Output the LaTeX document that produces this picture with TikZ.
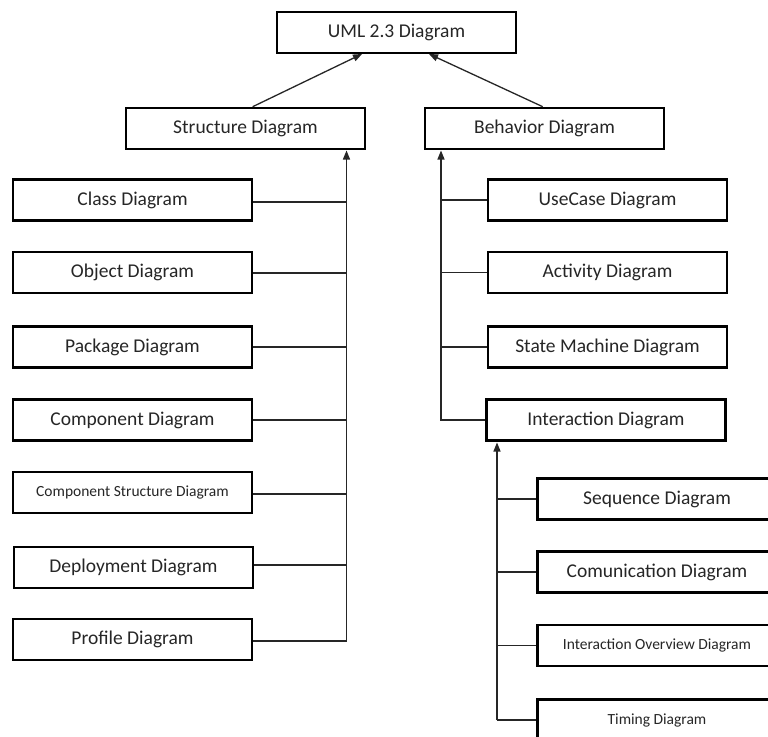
\documentclass[tikz,border=0pt]{standalone}
\usepackage{fontspec}
\setmainfont{Carlito}
\usetikzlibrary{arrows.meta}
\tikzset{
  box/.style={draw=black, line width=2.6pt, fill=white, minimum width=239pt, minimum height=41pt,
    inner sep=0pt, font=\fontsize{19.5}{23}\selectfont, text=black!85},
  smallbox/.style={box, font=\fontsize{15.5}{19}\selectfont},
  conn/.style={draw=black!85, line width=1.3pt},
  arr/.style={conn, -{Triangle[length=9pt,width=7pt]}},
}
\begin{document}
\begin{tikzpicture}[x=1pt,y=-1pt]
\useasboundingbox (0,0) rectangle (768,736);
\clip (0,0) rectangle (768,736);
\fill[white] (0,0) rectangle (768,736);
% top level
\node[box] (uml) at (396.5,32.5) {UML 2.3 Diagram};
\node[box] (struct) at (245.5,128.5) {Structure Diagram};
\node[box] (behav) at (544.5,128.5) {Behavior Diagram};
% structure children
\node[box] (class) at (132.5,200) {Class Diagram};
\node[box] (object) at (132.5,272.5) {Object Diagram};
\node[box] (package) at (132.5,347) {Package Diagram};
\node[box] (component) at (132.5,420) {Component Diagram};
\node[smallbox] (compstruct) at (132.5,492.5) {Component Structure Diagram};
\node[box] (deploy) at (133.5,567.5) {Deployment Diagram};
\node[box] (profile) at (132.5,639.5) {Profile Diagram};
% behavior children
\node[box] (usecase) at (607.5,200) {UseCase Diagram};
\node[box] (activity) at (607.5,272.5) {Activity Diagram};
\node[box] (state) at (607.5,347) {State Machine Diagram};
\node[box] (interact) at (606,420) {Interaction Diagram};
% interaction children
\node[box] (sequence) at (657,499) {Sequence Diagram};
\node[box] (comm) at (657,572) {Comunication Diagram};
\node[smallbox] (overview) at (657,645.5) {Interaction Overview Diagram};
\node[smallbox] (timing) at (657,720) {Timing Diagram};
% coordinates for trunks
\coordinate (sbot) at (346.5,150.5);
\coordinate (bbot) at (441,150.5);
\coordinate (ibot) at (497,442.5);
\coordinate (strunk) at (346.5,641);
\coordinate (itrunk) at (497,720);
% arrows to top
\draw[arr] (struct.north west) ++(128,0) coordinate (s1) -- (362,54) coordinate (u1);
\draw[arr] (behav.north west) ++(119,0) coordinate (b1) -- (429,54) coordinate (u2);
% structure trunk
\draw[arr] (strunk) -- (sbot);
\foreach \n/\y in {class/202,object/273,package/347,component/420,compstruct/494,deploy/565,profile/641}{
  \draw[conn] (\n.east |- 0,\y) -- (346.5,\y);
}
% behavior trunk
\draw[arr] (interact.west) -| (bbot);
\foreach \n in {usecase,activity,state}{
  \draw[conn] (\n.west) -- (\n.west -| bbot);
}
% interaction trunk
\draw[arr] (itrunk) -- (ibot);
\foreach \n in {sequence,comm,overview,timing}{
  \draw[conn] (\n.west) -- (\n.west -| ibot);
}
\end{tikzpicture}
\end{document}
